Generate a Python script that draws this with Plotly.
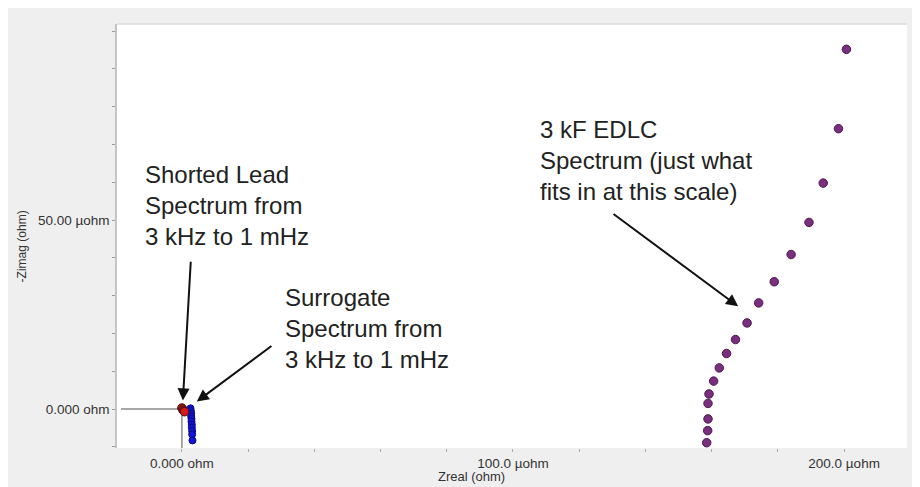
import plotly.graph_objects as go

# Values in micro-ohm
edlc_zreal = [200.7, 198.3, 193.7, 189.4, 184.0, 178.9, 174.2, 170.7, 167.2, 164.5,
              162.3, 160.6, 159.2, 158.9, 158.9, 158.8, 158.5]
edlc_zimag = [95.2, 74.2, 59.8, 49.4, 40.9, 33.7, 28.1, 22.8, 18.4, 14.7,
              10.9, 7.4, 4.0, 1.5, -2.6, -5.7, -8.9]

surrogate_zreal = [2.6, 2.7, 2.8, 2.8, 2.9, 2.9, 3.0, 3.0, 3.1, 3.1, 3.2]
surrogate_zimag = [0.2, -0.5, -1.2, -1.9, -2.6, -3.3, -4.1, -4.9, -5.8, -6.7, -8.3]

shorted_zreal = [0.0, 0.2, 0.4, 0.6, 0.8]
shorted_zimag = [0.3, 0.0, -0.3, -0.5, -0.7]

x_range = [-19.6, 219.0]
y_range = [-10.3, 101.9]
x_tickvals = [0, 100, 200]
x_ticktext = ["0.000 ohm", "100.0 µohm", "200.0 µohm"]
y_tickvals = [0, 50]
y_ticktext = ["0.000 ohm", "50.00 µohm"]

FONT = "Liberation Sans, Arial, sans-serif"

fig = go.Figure()

fig.add_trace(go.Scatter(
    x=edlc_zreal, y=edlc_zimag, mode="markers",
    marker=dict(size=8.5, color="#7a2e7e", line=dict(color="#4a1a4e", width=1)),
    name="3 kF EDLC"))
fig.add_trace(go.Scatter(
    x=surrogate_zreal, y=surrogate_zimag, mode="markers",
    marker=dict(size=7, color="#1414d8", line=dict(color="#0a0a80", width=1)),
    name="Surrogate"))
fig.add_trace(go.Scatter(
    x=shorted_zreal, y=shorted_zimag, mode="markers",
    marker=dict(size=8.5, color="#d81818", line=dict(color="#501010", width=1)),
    name="Shorted Lead"))

shapes = [
    # crosshair lines to origin
    dict(type="line", xref="x", yref="y", x0=x_range[0] + 1.2, x1=0, y0=0, y1=0,
         line=dict(color="#8a8a8a", width=1.5), layer="below"),
    dict(type="line", xref="x", yref="y", x0=0, x1=0, y0=y_range[0], y1=0,
         line=dict(color="#8a8a8a", width=1.5), layer="below"),
    # top edge of plot area
    dict(type="line", xref="paper", yref="paper", x0=0, x1=1, y0=1, y1=1,
         line=dict(color="#dcdcdc", width=1.5)),
]

ann_font = dict(family=FONT, size=24, color="#222222")
annotations = [
    dict(x=-11.8, y=54.0, xref="x", yref="y", xanchor="left", yanchor="middle", align="left",
         text="Shorted Lead<br>Spectrum from<br>3 kHz to 1 mHz", showarrow=False, font=ann_font),
    dict(x=30.5, y=21.4, xref="x", yref="y", xanchor="left", yanchor="middle", align="left",
         text="Surrogate<br>Spectrum from<br>3 kHz to 1 mHz", showarrow=False, font=ann_font),
    dict(x=107.6, y=65.9, xref="x", yref="y", xanchor="left", yanchor="middle", align="left",
         text="3 kF EDLC<br>Spectrum (just what<br>fits in at this scale)", showarrow=False, font=ann_font),
    # arrows
    dict(x=0.3, y=2.3, ax=2.7, ay=39.4, xref="x", yref="y", axref="x", ayref="y", text="",
         showarrow=True, arrowhead=2, arrowsize=1.2, arrowwidth=2, arrowcolor="#111111"),
    dict(x=4.5, y=2.0, ax=27.5, ay=17.0, xref="x", yref="y", axref="x", ayref="y", text="",
         showarrow=True, arrowhead=2, arrowsize=1.2, arrowwidth=2, arrowcolor="#111111"),
    dict(x=168.0, y=27.2, ax=129.9, ay=51.9, xref="x", yref="y", axref="x", ayref="y", text="",
         showarrow=True, arrowhead=2, arrowsize=1.2, arrowwidth=2, arrowcolor="#111111"),
    # axis titles
    dict(x=0.449, y=-0.068, xref="paper", yref="paper", xanchor="center", yanchor="middle",
         text="Zreal (ohm)", showarrow=False, font=dict(family=FONT, size=13, color="#333333")),
    dict(x=-0.120, y=0.476, xref="paper", yref="paper", xanchor="center", yanchor="middle",
         text="-Zimag (ohm)", textangle=-90, showarrow=False,
         font=dict(family=FONT, size=12, color="#333333")),
]

# page body has an 8px margin; the figure is sized so the plot area lands where the reference has it
fig.update_layout(
    width=912, height=479,
    margin=dict(l=109, r=13, t=16, b=39),
    paper_bgcolor="#efefef", plot_bgcolor="white",
    showlegend=False,
    shapes=shapes, annotations=annotations,
    font=dict(family=FONT, size=12, color="#333333"),
)
fig.update_xaxes(
    range=x_range, tickmode="array", tickvals=x_tickvals, ticktext=x_ticktext,
    showgrid=False, zeroline=False, showline=False,
    ticks="outside", ticklen=3, tickcolor="#aaaaaa",
    tickfont=dict(family=FONT, size=13.5, color="#333333"),
    minor=dict(tickmode="linear", tick0=0, dtick=20, ticks="outside", ticklen=3, tickcolor="#aaaaaa"),
)
fig.update_yaxes(
    range=y_range, tickmode="array", tickvals=y_tickvals, ticktext=y_ticktext,
    showgrid=False, zeroline=False, showline=True, linecolor="#c4c4c4", linewidth=1.5,
    ticks="outside", ticklen=3, tickcolor="#999999",
    tickfont=dict(family=FONT, size=13.5, color="#333333"),
    minor=dict(tickmode="linear", tick0=0, dtick=10, ticks="outside", ticklen=3, tickcolor="#999999"),
)

fig.write_html("out.html")
